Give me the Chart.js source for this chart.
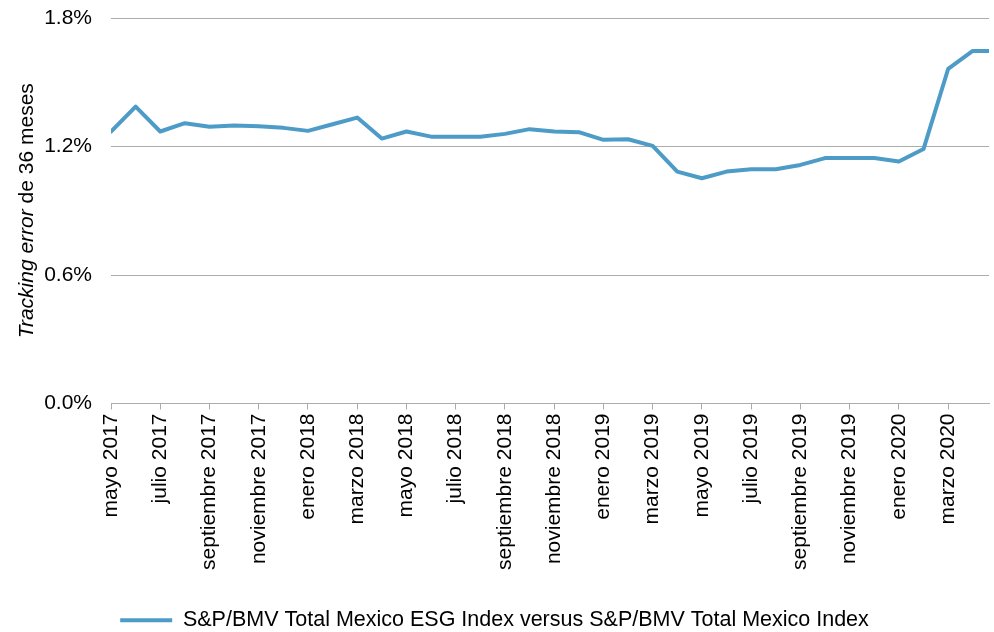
<!DOCTYPE html>
<html>
<head>
<meta charset="utf-8">
<script src="https://cdn.jsdelivr.net/npm/chart.js@4"></script>
<style>
  html, body { margin: 0; padding: 0; background: #ffffff; }
  #wrap { width: 994px; height: 632px; }
</style>
</head>
<body>
<div id="wrap"><canvas id="c" width="994" height="632"></canvas></div>
<script>
// ---- Data ----
const months = [
  'mayo 2017', 'junio 2017', 'julio 2017', 'agosto 2017', 'septiembre 2017', 'octubre 2017',
  'noviembre 2017', 'diciembre 2017', 'enero 2018', 'febrero 2018', 'marzo 2018', 'abril 2018',
  'mayo 2018', 'junio 2018', 'julio 2018', 'agosto 2018', 'septiembre 2018', 'octubre 2018',
  'noviembre 2018', 'diciembre 2018', 'enero 2019', 'febrero 2019', 'marzo 2019', 'abril 2019',
  'mayo 2019', 'junio 2019', 'julio 2019', 'agosto 2019', 'septiembre 2019', 'octubre 2019',
  'noviembre 2019', 'diciembre 2019', 'enero 2020', 'febrero 2020', 'marzo 2020', 'abril 2020',
  'mayo 2020'
];
const trackingError = [
  1.270, 1.386, 1.270, 1.309, 1.292, 1.298, 1.295, 1.287, 1.273, 1.304, 1.335, 1.237,
  1.270, 1.246, 1.245, 1.246, 1.259, 1.281, 1.270, 1.267, 1.231, 1.234, 1.203, 1.083,
  1.052, 1.083, 1.094, 1.094, 1.114, 1.146, 1.146, 1.146, 1.130, 1.188, 1.562, 1.646,
  1.646
];
const yTickValues = [0, 0.6, 1.2, 1.8];
const seriesLabel = 'S&P/BMV Total Mexico ESG Index versus S&P/BMV Total Mexico Index';
const yTitleItalic = 'Tracking error';
const yTitleRest = ' de 36 meses';

// ---- Styling ----
const FONT = '"Liberation Sans", Arial, Helvetica, sans-serif';
const LINE_COLOR = '#4d9cc8';
const GRID_COLOR = '#acacac';

const points = trackingError.map((v, i) => ({ x: i, y: v }));

const yTitlePlugin = {
  id: 'yTitle',
  afterDraw(chart) {
    const ctx = chart.ctx;
    const area = chart.chartArea;
    ctx.save();
    ctx.fillStyle = '#000';
    ctx.textBaseline = 'middle';
    ctx.textAlign = 'left';
    const italic = 'italic 21px ' + FONT;
    const normal = '21px ' + FONT;
    ctx.font = italic;
    const w1 = ctx.measureText(yTitleItalic).width;
    ctx.font = normal;
    const w2 = ctx.measureText(yTitleRest).width;
    const cy = (area.top + area.bottom) / 2;
    ctx.translate(27, cy);
    ctx.rotate(-Math.PI / 2);
    const start = -(w1 + w2) / 2;
    ctx.font = italic;
    ctx.fillText(yTitleItalic, start, 0);
    ctx.font = normal;
    ctx.fillText(yTitleRest, start + w1, 0);
    ctx.restore();
  }
};

const legendShiftPlugin = {
  id: 'legendShift',
  afterLayout(chart) {
    if (chart.legend) {
      chart.legend.top += 9;
      chart.legend.bottom += 9;
    }
  }
};

new Chart(document.getElementById('c'), {
  type: 'line',
  data: {
    datasets: [{
      label: seriesLabel,
      data: points,
      borderColor: LINE_COLOR,
      backgroundColor: LINE_COLOR,
      borderWidth: 4,
      borderCapStyle: 'round',
      borderJoinStyle: 'round',
      pointRadius: 0,
      pointHoverRadius: 0,
      tension: 0,
      fill: false
    }]
  },
  options: {
    responsive: false,
    animation: false,
    devicePixelRatio: 1,
    layout: { padding: { left: 0, right: 5, top: 18, bottom: 0 } },
    plugins: {
      tooltip: { enabled: false },
      legend: {
        position: 'bottom',
        labels: {
          usePointStyle: true,
          pointStyle: 'line',
          pointStyleWidth: 52,
          padding: 0,
          color: '#000',
          font: { family: FONT, size: 21.5 }
        }
      }
    },
    scales: {
      x: {
        type: 'linear',
        min: 0,
        max: 35.66,
        afterBuildTicks(scale) {
          scale.ticks = months.map((_, i) => i)
            .filter(i => i % 2 === 0 && i <= scale.max)
            .map(i => ({ value: i }));
        },
        afterFit(scale) { scale.height = 197; },
        ticks: {
          autoSkip: false,
          maxRotation: 90,
          minRotation: 90,
          padding: 4,
          color: '#000',
          font: { family: FONT, size: 21 },
          callback: (value) => months[value]
        },
        grid: {
          drawOnChartArea: false,
          drawTicks: true,
          tickLength: 6,
          color: GRID_COLOR,
          lineWidth: 1
        },
        border: { display: true, color: GRID_COLOR, width: 1 }
      },
      y: {
        type: 'linear',
        min: 0,
        max: 1.8,
        afterBuildTicks(scale) {
          scale.ticks = yTickValues.map(v => ({ value: v }));
        },
        afterFit(scale) {
          scale.width = 111;
          scale.paddingTop = 0;
          scale.paddingBottom = 0;
        },
        ticks: {
          padding: 19,
          color: '#000',
          font: { family: FONT, size: 21 },
          callback: (value) => value.toFixed(1) + '%'
        },
        grid: {
          drawTicks: false,
          color: GRID_COLOR,
          lineWidth: 1
        },
        border: { display: false }
      }
    }
  },
  plugins: [yTitlePlugin, legendShiftPlugin]
});
</script>
</body>
</html>
